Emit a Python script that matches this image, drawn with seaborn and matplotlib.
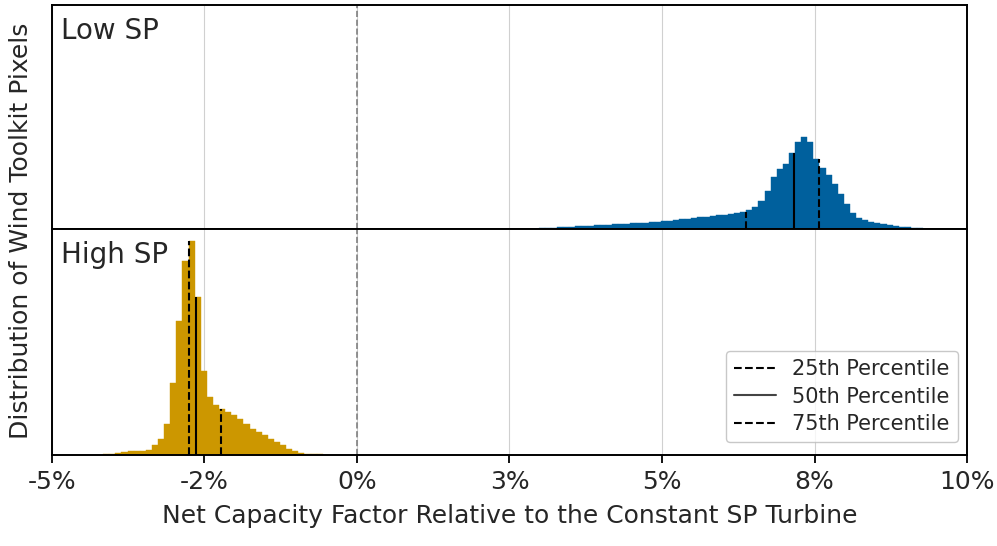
import numpy as np
import pandas as pd
import matplotlib
matplotlib.use('Agg')
import matplotlib.pyplot as plt
import seaborn as sns
from matplotlib.lines import Line2D

sns.set_style('ticks')
plt.rcParams['font.family'] = ['DejaVu Sans']

# bin edges in percent, width 0.1
low_edges = np.round(2.58 + 0.1 * np.arange(71), 2)
low_counts = [0.5, 1, 1.5, 2, 3, 4, 5, 6, 7, 8,
              9, 10, 11, 12, 13, 14, 15, 16, 17, 18,
              19, 20, 21, 22, 24, 26, 28, 30, 32, 34,
              36, 38, 40, 42,
              44, 47, 50, 53, 57, 67, 85, 115, 157, 180,
              195, 228, 263, 277, 263, 210, 185, 163, 135, 105,
              75, 50, 33, 27, 23, 19, 16, 13, 10, 8,
              6, 4, 3, 2, 1, 0.5]
low_pct = [6.38, 7.17, 7.57]

high_edges = np.round(-4.16 + 0.1 * np.arange(38), 2)
high_counts = [2, 3, 5, 8, 10, 11, 12, 13, 28, 48,
               93, 213, 400, 578, 638, 470, 250, 173, 148, 138,
               128, 120, 108, 93, 78, 68, 58, 48, 38, 28,
               18, 11, 6, 3, 1.5, 1, 0.5]
high_pct = [-2.749, -2.639, -2.235]

tick_vals = [-5, -2.5, 0, 2.5, 5, 7.5, 10]
tick_labels = ['-5%', '-2%', '0%', '3%', '5%', '8%', '10%']

fig = plt.figure(figsize=(9.97, 5.46), dpi=100)
ax1 = fig.add_axes([0.052, 0.58, 0.918, 0.41])
ax2 = fig.add_axes([0.052, 0.167, 0.918, 0.413])


def draw(ax, edges, counts, pct, color, label, top):
    n = min(len(edges) - 1, len(counts))
    df = pd.DataFrame({'x': (edges[:n] + edges[1:n + 1]) / 2, 'w': counts[:n]})
    sns.histplot(data=df, x='x', weights='w', bins=list(edges[:n + 1]), ax=ax,
                 color=color, alpha=1, edgecolor=color, linewidth=0.3, zorder=2)
    for p, ls in zip(pct, ['--', '-', '--']):
        i = np.searchsorted(edges, p) - 1
        ax.vlines(p, 0, counts[i], colors='black', linestyles=ls, lw=1.5, zorder=3)
    ax.axvline(0, color='gray', ls='--', lw=1.2, zorder=1)
    for t in tick_vals:
        ax.axvline(t, color='#d0d0d0', lw=0.8, zorder=0)
    ax.set_xlim(-5, 10)
    ax.set_ylim(0, top)
    ax.set_yticks([])
    ax.set_ylabel('')
    ax.set_xlabel('')
    ax.text(0.01, 0.95, label, transform=ax.transAxes, fontsize=20, va='top')
    for s in ax.spines.values():
        s.set_linewidth(1.4)
        s.set_color('black')


draw(ax1, low_edges, low_counts, low_pct, '#00609d', 'Low SP', 672)
draw(ax2, high_edges, high_counts, high_pct, '#cc9700', 'High SP', 672)

ax1.set_xticks([])
ax2.set_xticks(tick_vals)
ax2.set_xticklabels(tick_labels, fontsize=18)
ax2.xaxis.set_ticks_position('bottom')
ax2.tick_params(axis='x', which='major', length=6, width=1.3, direction='out',
                color='black', pad=5)
ax2.set_xlabel('Net Capacity Factor Relative to the Constant SP Turbine', fontsize=18, labelpad=7)
fig.text(0.021, 0.578, 'Distribution of Wind Toolkit Pixels', rotation=90,
         va='center', ha='center', fontsize=18)

handles = [Line2D([], [], color='black', ls='--', lw=1.5),
           Line2D([], [], color='#444444', ls='-', lw=1.5),
           Line2D([], [], color='black', ls='--', lw=1.5)]
ax2.legend(handles, ['25th Percentile', '50th Percentile', '75th Percentile'],
           loc='lower right', fontsize=15, frameon=True, edgecolor='#bbbbbb',
           bbox_to_anchor=(0.99, 0.055), borderaxespad=0, labelspacing=0.35,
           handlelength=2.0)

fig.savefig('out.png', dpi=100)
